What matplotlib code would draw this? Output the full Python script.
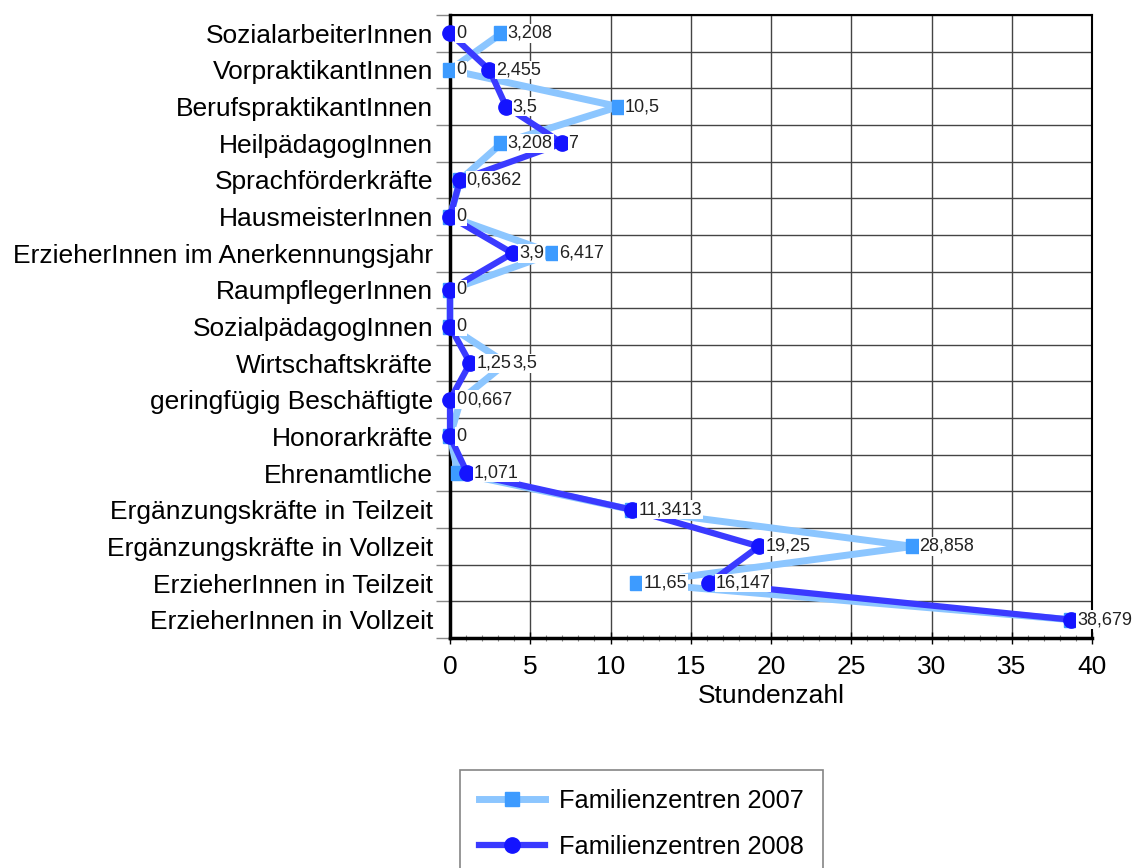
import matplotlib
matplotlib.use("Agg")
import matplotlib.pyplot as plt
from matplotlib.ticker import MultipleLocator, FixedLocator

plt.rcParams['font.family'] = ['Liberation Sans', 'DejaVu Sans']

categories = [
    "SozialarbeiterInnen", "VorpraktikantInnen", "BerufspraktikantInnen",
    "HeilpädagogInnen", "Sprachförderkräfte", "HausmeisterInnen",
    "ErzieherInnen im Anerkennungsjahr", "RaumpflegerInnen", "SozialpädagogInnen",
    "Wirtschaftskräfte", "geringfügig Beschäftigte", "Honorarkräfte",
    "Ehrenamtliche", "Ergänzungskräfte in Teilzeit", "Ergänzungskräfte in Vollzeit",
    "ErzieherInnen in Teilzeit", "ErzieherInnen in Vollzeit",
]
values_2007 = [3.208, 0, 10.5, 3.208, 0.6362, 0, 6.417, 0, 0, 3.5, 0.667, 0,
               0.5, 11.3413, 28.858, 11.65, 38.679]
values_2008 = [0, 2.455, 3.5, 7, 0.6362, 0, 3.9, 0, 0, 1.25, 0, 0,
               1.071, 11.3413, 19.25, 16.147, 38.679]
labels_2007 = ["3,208", "0", "10,5", "3,208", "0,6362", "0", "6,417", "0", "0", "3,5", "0,667", "0",
               "", "11,3413", "28,858", "11,65", "38,679"]
labels_2008 = ["0", "2,455", "3,5", "7", "0,6362", "0", "3,9", "0", "0", "1,25", "0", "0",
               "1,071", "11,3413", "19,25", "16,147", "38,679"]
series_names = ["Familienzentren 2007", "Familienzentren 2008"]

fig = plt.figure(figsize=(11.45, 8.68), dpi=100)
ax = fig.add_axes([450/1145, 1-638/868, (1092-450)/1145, (638-15)/868])

y = list(range(len(categories)))

ax.plot(values_2007, y, color="#8cc6ff", lw=5, marker="s", ms=10, mfc="#3d9bff",
        mec="#3d9bff", label=series_names[0], zorder=3, clip_on=False)
ax.plot(values_2008, y, color="#3a3aff", lw=4.5, marker="o", ms=11, mfc="#1414ff",
        mec="#1414ff", label=series_names[1], zorder=4, clip_on=False)

for vals, labs in ((values_2007, labels_2007), (values_2008, labels_2008)):
    for v, yy, t in zip(vals, y, labs):
        if t:
            ax.annotate(t, (v, yy), xytext=(4.5, 0), textcoords="offset points",
                        va="center", ha="left", fontsize=13, color="#222222",
                        bbox=dict(boxstyle="square,pad=0.05", fc="white", ec="none"),
                        zorder=5, annotation_clip=False)

ax.set_xlim(0, 40)
ax.set_ylim(len(categories) - 0.5, -0.5)
ax.xaxis.set_major_locator(MultipleLocator(5))
ax.xaxis.set_minor_locator(MultipleLocator(1))
ax.set_yticks(y)
ax.set_yticklabels(categories, fontsize=19)
ax.yaxis.set_minor_locator(FixedLocator([i + 0.5 for i in range(-1, len(categories))]))
ax.tick_params(axis='y', which='major', length=0, pad=12)
ax.tick_params(axis='y', which='minor', length=10, width=1, color="#888888")
ax.tick_params(axis='x', which='major', length=8, width=1, labelsize=19, pad=8, direction='inout')
ax.tick_params(axis='x', which='minor', length=5, width=0.8, color="#888888", direction='inout')
ax.grid(True, which='major', axis='x', color="#444444", lw=1)
ax.grid(True, which='minor', axis='y', color="#444444", lw=1)
ax.set_axisbelow(True)
for s in ("left", "bottom"):
    ax.spines[s].set_linewidth(2.5)
for s in ("top", "right"):
    ax.spines[s].set_linewidth(1.5)
ax.set_xlabel("Stundenzahl", fontsize=19, labelpad=4)

leg = fig.legend(loc="upper left", bbox_to_anchor=(460/1145, 1-770/868), borderaxespad=0,
                 fontsize=18.3, handlelength=2.6, labelspacing=0.85, borderpad=0.75,
                 handletextpad=0.55, frameon=True, fancybox=False, edgecolor="#666666")
leg.get_frame().set_linewidth(1.2)

fig.savefig("out.png", dpi=100)
